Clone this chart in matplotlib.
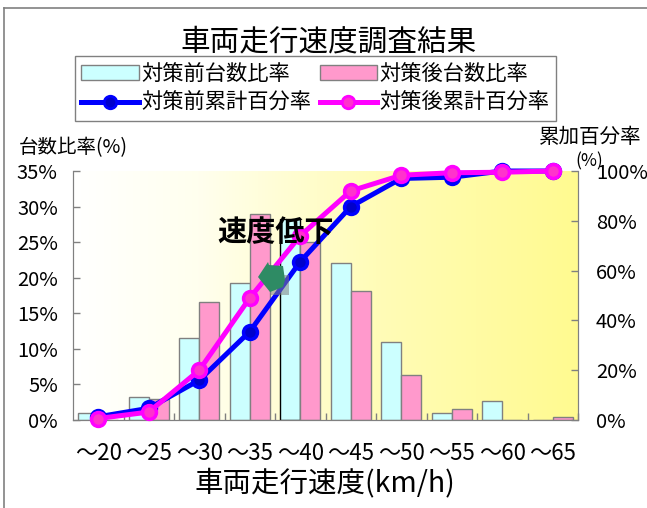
import numpy as np
import matplotlib
matplotlib.use("Agg")
import matplotlib.pyplot as plt
from matplotlib.colors import LinearSegmentedColormap
from matplotlib.lines import Line2D
from matplotlib.patches import Patch, Polygon, Rectangle

categories = ["～20", "～25", "～30", "～35", "～40", "～45", "～50", "～55", "～60", "～65"]
before_ratio = [1.0, 3.2, 11.5, 19.3, 28.2, 22.0, 11.0, 1.0, 2.7, 0.0]
after_ratio = [0.0, 2.9, 16.6, 29.0, 25.0, 18.1, 6.3, 1.5, 0.0, 0.4]
before_cum = [1.3, 4.7, 16.0, 35.5, 63.6, 85.7, 97.0, 97.5, 100.0, 100.0]
after_cum = [0.6, 3.2, 20.0, 49.0, 74.0, 92.0, 98.3, 99.3, 99.5, 100.0]
left_ticks = [0, 5, 10, 15, 20, 25, 30, 35]
right_ticks = [0, 20, 40, 60, 80, 100]

W, H = 647, 508
CJK = "Noto Sans CJK JP"
plt.rcParams["font.family"] = [CJK, "DejaVu Sans"]
num_font = dict(family=CJK, size=14.5)


def fx(x):
    return x / W


def fy(y):
    return 1 - y / H


fig = plt.figure(figsize=(W / 100, H / 100), dpi=100)
ax = fig.add_axes([fx(73), fy(420), (578 - 73) / W, (420 - 171) / H])
x = np.arange(len(categories))
GREY = "#808080"

cmap = LinearSegmentedColormap.from_list(
    "bg", [(0, "#FFFFFF"), (0.25, "#FFFFEE"), (0.6, "#FFFCB8"), (1, "#FFFA90")]
)
ax.imshow(np.linspace(0, 1, 256)[None, :], cmap=cmap, aspect="auto",
          extent=(-0.5, 9.5, 0, 35), zorder=0)

bw = 0.4
edges_before = [GREY] * 4 + ["black"] + [GREY] * 5
ax.bar(x - bw / 2, before_ratio, bw, color="#CCFFFF", edgecolor=edges_before, linewidth=1, zorder=2)
ax.bar(x + bw / 2, after_ratio, bw, color="#FF99CC", edgecolor=GREY, linewidth=1, zorder=2)

ax.set_xlim(-0.5, 9.5)
ax.set_ylim(0, 35)
ax.set_xticks(x + 0.5, minor=True)
ax.set_xticks(x)
ax.set_xticklabels(categories, fontsize=16, family=CJK)
ax.tick_params(axis="x", which="major", length=0, pad=16)
ax.tick_params(axis="x", which="minor", direction="in", length=5, color=GREY, width=1)
ax.set_yticks(left_ticks)
ax.set_yticklabels([f"{v}%" for v in left_ticks], **num_font)
ax.tick_params(axis="y", direction="in", length=5, color=GREY, width=1, pad=11)
ax.spines["top"].set_visible(False)
for s in ("left", "bottom", "right"):
    ax.spines[s].set_color(GREY)

ax2 = ax.twinx()
ax2.set_ylim(0, 100)
ax2.plot(x, before_cum, color="#0000FF", lw=3.6, marker="o", ms=10, mfc="#0000CC",
         mec="#0000FF", mew=2.5, clip_on=False, zorder=4)
ax2.plot(x, after_cum, color="#FF00FF", lw=3.6, marker="o", ms=10, mfc="#FF33CC",
         mec="#FF00FF", mew=2.5, clip_on=False, zorder=5)
ax2.set_yticks(right_ticks)
ax2.set_yticklabels([f"{v}%" for v in right_ticks], **num_font)
ax2.tick_params(axis="y", direction="in", length=5, color=GREY, width=1, pad=13)
ax2.spines["top"].set_visible(False)
for s in ("left", "bottom", "right"):
    ax2.spines[s].set_color(GREY)
for lab in ax2.get_yticklabels():
    lab.set_ha("left")

# outer chart frame
for xs, ys in (((3.5, 3.5), (8, 508)), ((3.5, 647), (8, 8))):
    fig.add_artist(Line2D([fx(a) for a in xs], [fy(b) for b in ys], color="#808080", lw=1.2))

# texts
fig.text(fx(329), fy(42), "車両走行速度調査結果", fontsize=21.3, ha="center", va="center")
fig.text(fx(325), fy(483), "車両走行速度(km/h)", fontsize=20.5, ha="center", va="center")
fig.text(fx(19), fy(148), "台数比率(%)", fontsize=14, ha="left", va="center")
fig.text(fx(539), fy(137), "累加百分率", fontsize=14.8, ha="left", va="center")
fig.text(fx(589), fy(161), "(%)", fontsize=12.5, ha="center", va="center")

# decline annotation
fig.add_artist(Rectangle((fx(270), fy(295)), 19 / W, 20 / H, transform=fig.transFigure,
                         facecolor="#808080", alpha=0.55, edgecolor="none", zorder=6))
arrow_px = [(258, 277), (268, 262), (269, 265), (283, 266), (285, 280), (283, 287), (270, 292)]
fig.add_artist(Polygon([(fx(a), fy(b)) for a, b in arrow_px], closed=True,
                       transform=fig.transFigure, facecolor="#2E8B64", edgecolor="none", zorder=7))
fig.text(fx(276), fy(232), "速度低下", fontsize=21, fontweight="bold", ha="center", va="center", zorder=8)

handles = [
    Patch(facecolor="#CCFFFF", edgecolor=GREY, label="対策前台数比率"),
    Line2D([], [], color="#0000FF", lw=3.6, marker="o", ms=9, mfc="#0000CC", mec="#0000FF", mew=2,
           label="対策前累計百分率"),
    Patch(facecolor="#FF99CC", edgecolor=GREY, label="対策後台数比率"),
    Line2D([], [], color="#FF00FF", lw=3.6, marker="o", ms=9, mfc="#FF33CC", mec="#FF00FF", mew=2,
           label="対策後累計百分率"),
]
leg = fig.legend(handles=handles, ncols=2, fontsize=15.3, loc="center",
                 bbox_to_anchor=(fx(315.5), fy(88.5)), fancybox=False, framealpha=1,
                 edgecolor=GREY, handlelength=2.7, handletextpad=0.12, columnspacing=0.4,
                 labelspacing=0.35, borderpad=0.3, borderaxespad=0)
leg.get_frame().set_linewidth(1)

fig.savefig("out.png", dpi=100)
